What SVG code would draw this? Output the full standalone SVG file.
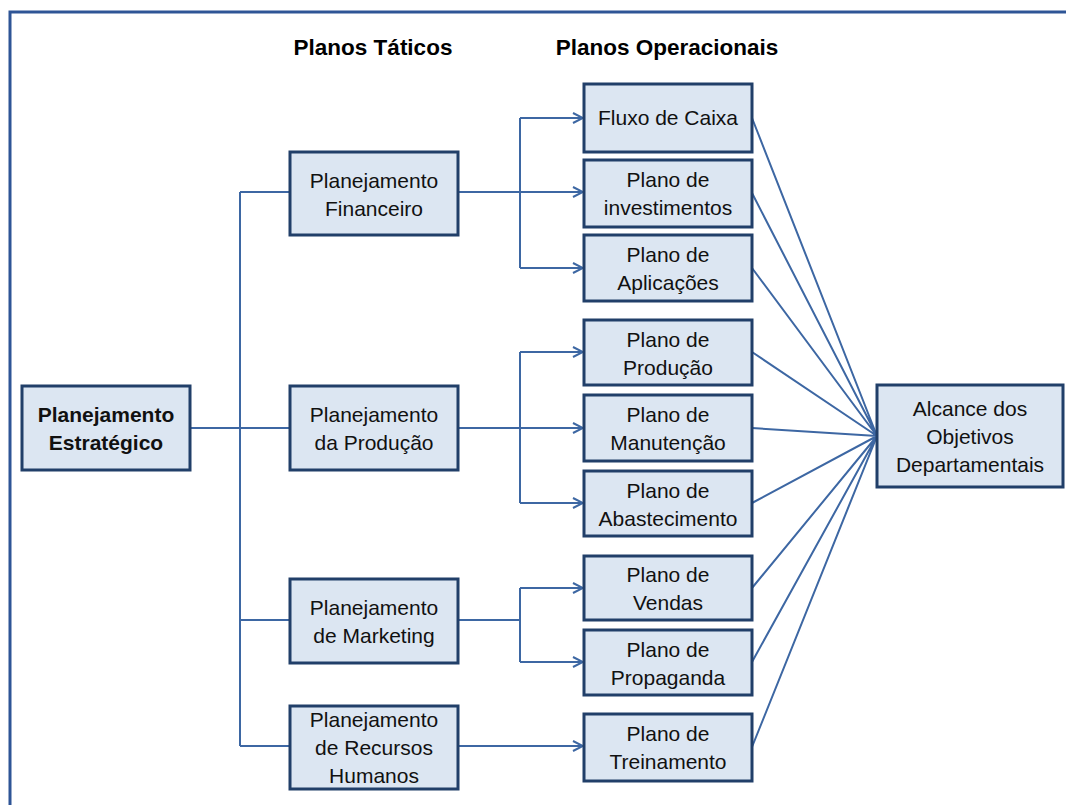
<svg xmlns="http://www.w3.org/2000/svg" width="1066" height="805" viewBox="0 0 1066 805">
  <defs>
    <marker id="arrow" viewBox="0 0 12 12" refX="11" refY="6" markerWidth="12" markerHeight="12" markerUnits="userSpaceOnUse" orient="auto">
      <path d="M1,1 L11,6 L1,11" fill="none" stroke="#3d67a3" stroke-width="2"/>
    </marker>
    <style>
      .box { fill: #dce6f2; stroke: #213f69; stroke-width: 3; }
      .lbl { font-family: "Liberation Sans", Arial, sans-serif; font-size: 21px; fill: #111; text-anchor: middle; }
      .bold { font-weight: bold; }
      .head { font-family: "Liberation Sans", Arial, sans-serif; font-size: 22.5px; font-weight: bold; fill: #000; text-anchor: middle; }
      .conn { fill: none; stroke: #3d67a3; stroke-width: 2; }
      .arr { marker-end: url(#arrow); }
    </style>
  </defs>

  <rect x="0" y="0" width="1066" height="805" fill="#ffffff"/>
  <!-- outer frame -->
  <path d="M10,805 V12 H1066" fill="none" stroke="#2e5596" stroke-width="3"/>

  <!-- column headings -->
  <text class="head" x="373" y="55">Planos Táticos</text>
  <text class="head" x="667" y="55">Planos Operacionais</text>

  <!-- connectors -->
  <g id="connectors">
    <!-- strategic to tactical -->
    <path class="conn" d="M190,428 H240"/>
    <path class="conn" d="M240,192 V746"/>
    <path class="conn" d="M240,192 H290 M240,428 H290 M240,620 H290 M240,746 H290"/>
    <!-- financeiro -->
    <path class="conn" d="M458,192 H520 M520,118 V268"/>
    <path class="conn arr" d="M520,118 H583"/>
    <path class="conn arr" d="M520,192 H583"/>
    <path class="conn arr" d="M520,268 H583"/>
    <!-- produção -->
    <path class="conn" d="M458,428 H520 M520,352 V503"/>
    <path class="conn arr" d="M520,352 H583"/>
    <path class="conn arr" d="M520,428 H583"/>
    <path class="conn arr" d="M520,503 H583"/>
    <!-- marketing -->
    <path class="conn" d="M458,620 H520 M520,588 V662"/>
    <path class="conn arr" d="M520,588 H583"/>
    <path class="conn arr" d="M520,662 H583"/>
    <!-- recursos humanos -->
    <path class="conn arr" d="M458,746 H583"/>
    <!-- operational to goals -->
    <path class="conn" d="M752,118 L877,436 M752,193 L877,436 M752,268 L877,436 M752,352 L877,436 M752,428 L877,436 M752,503 L877,436 M752,588 L877,436 M752,662 L877,436 M752,747 L877,436"/>
  </g>

  <g id="n-estrategico">
    <rect class="box" x="22" y="386" width="168" height="84"/>
    <text class="lbl bold" x="106" y="422">Planejamento</text>
    <text class="lbl bold" x="106" y="450">Estratégico</text>
  </g>

  <g id="n-financeiro">
    <rect class="box" x="290" y="152" width="168" height="83"/>
    <text class="lbl" x="374" y="188">Planejamento</text>
    <text class="lbl" x="374" y="216">Financeiro</text>
  </g>
  <g id="n-producao">
    <rect class="box" x="290" y="386" width="168" height="84"/>
    <text class="lbl" x="374" y="422">Planejamento</text>
    <text class="lbl" x="374" y="450">da Produção</text>
  </g>
  <g id="n-marketing">
    <rect class="box" x="290" y="579" width="168" height="84"/>
    <text class="lbl" x="374" y="615">Planejamento</text>
    <text class="lbl" x="374" y="643">de Marketing</text>
  </g>
  <g id="n-rh">
    <rect class="box" x="290" y="706" width="168" height="83"/>
    <text class="lbl" x="374" y="727">Planejamento</text>
    <text class="lbl" x="374" y="755">de Recursos</text>
    <text class="lbl" x="374" y="783">Humanos</text>
  </g>

  <g id="n-fluxo">
    <rect class="box" x="584" y="84" width="168" height="68"/>
    <text class="lbl" x="668" y="125">Fluxo de Caixa</text>
  </g>
  <g id="n-investimentos">
    <rect class="box" x="584" y="160" width="168" height="67"/>
    <text class="lbl" x="668" y="187">Plano de</text>
    <text class="lbl" x="668" y="215">investimentos</text>
  </g>
  <g id="n-aplicacoes">
    <rect class="box" x="584" y="235" width="168" height="66"/>
    <text class="lbl" x="668" y="262">Plano de</text>
    <text class="lbl" x="668" y="290">Aplicações</text>
  </g>
  <g id="n-plano-producao">
    <rect class="box" x="584" y="320" width="168" height="65"/>
    <text class="lbl" x="668" y="347">Plano de</text>
    <text class="lbl" x="668" y="375">Produção</text>
  </g>
  <g id="n-manutencao">
    <rect class="box" x="584" y="395" width="168" height="66"/>
    <text class="lbl" x="668" y="422">Plano de</text>
    <text class="lbl" x="668" y="450">Manutenção</text>
  </g>
  <g id="n-abastecimento">
    <rect class="box" x="584" y="471" width="168" height="65"/>
    <text class="lbl" x="668" y="498">Plano de</text>
    <text class="lbl" x="668" y="526">Abastecimento</text>
  </g>
  <g id="n-vendas">
    <rect class="box" x="584" y="556" width="168" height="64"/>
    <text class="lbl" x="668" y="582">Plano de</text>
    <text class="lbl" x="668" y="610">Vendas</text>
  </g>
  <g id="n-propaganda">
    <rect class="box" x="584" y="630" width="168" height="65"/>
    <text class="lbl" x="668" y="657">Plano de</text>
    <text class="lbl" x="668" y="685">Propaganda</text>
  </g>
  <g id="n-treinamento">
    <rect class="box" x="584" y="714" width="168" height="67"/>
    <text class="lbl" x="668" y="741">Plano de</text>
    <text class="lbl" x="668" y="769">Treinamento</text>
  </g>

  <g id="n-objetivos">
    <rect class="box" x="877" y="385" width="186" height="102"/>
    <text class="lbl" x="970" y="416">Alcance dos</text>
    <text class="lbl" x="970" y="444">Objetivos</text>
    <text class="lbl" x="970" y="472">Departamentais</text>
  </g>
</svg>
